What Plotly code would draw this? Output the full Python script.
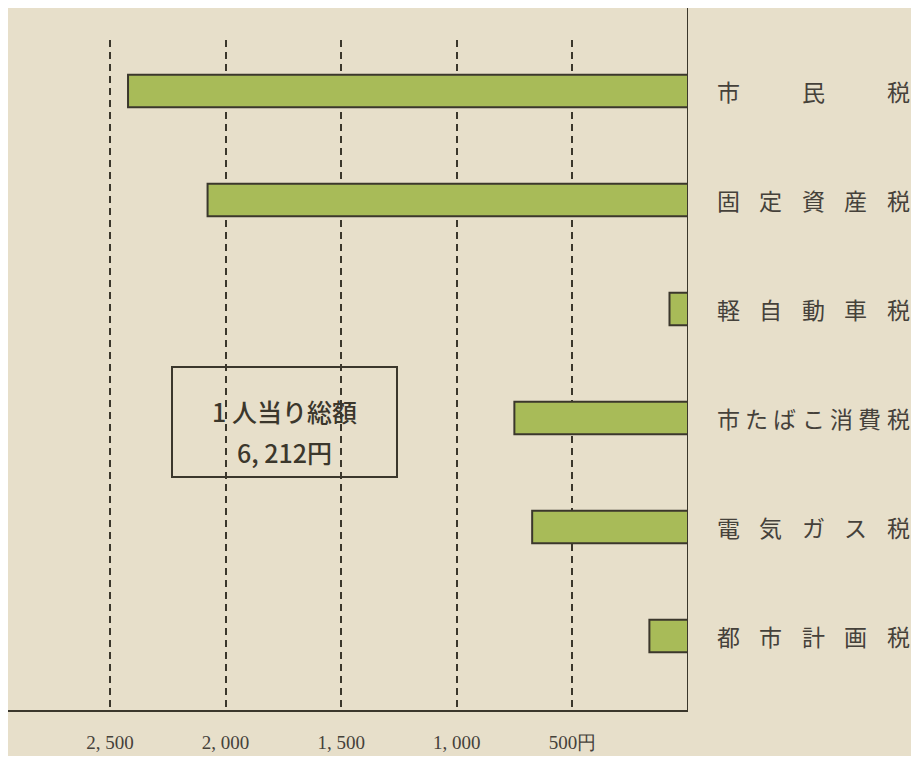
import plotly.graph_objects as go

# 税目別 1人当り税額（円）
ZEIMOKU = ["市民税", "固定資産税", "軽自動車税", "市たばこ消費税", "電気ガス税", "都市計画税"]
GAKU = [2422, 2078, 80, 751, 674, 167]

TICK_VALS = [2500, 2000, 1500, 1000, 500]
TICK_TEXT = ["2, 500", "2, 000", "1, 500", "1, 000", "500円"]

SOUGAKU_LABEL = "1 人当り総額"
SOUGAKU_TEXT = "6, 212円"

BG_PAPER = "#e7dfca"
BAR_GREEN = "#a8bb58"
INK = "#3b372c"
LABEL_INK = "#45413a"

# ページの余白(8px)を差し引いたサイズ
OFF = 8
W, H = 919 - 2 * OFF, 764 - 2 * OFF
L, T = 0, 40 - OFF
PLOT_W = 688 - OFF
PLOT_H = 670
R = W - L - PLOT_W
B = H - T - PLOT_H
PX_PER_YEN = 0.2312


def px(x):
    return (x - OFF - L) / PLOT_W


def py(y):
    return 1 - (y - OFF - T) / PLOT_H


fig = go.Figure()
fig.add_trace(go.Bar(
    x=GAKU,
    y=ZEIMOKU,
    orientation="h",
    width=0.3,
    marker=dict(color=BAR_GREEN, line=dict(color=INK, width=2)),
    hoverinfo="x+y",
))

# 軸線（右端の縦線、上まで伸ばす）
fig.add_shape(type="line", xref="x", yref="paper", x0=0, x1=0, y0=0, y1=1 + T / PLOT_H,
              line=dict(color=INK, width=2))

# 右側の税目ラベル（均等割付）
LEFT_PX, RIGHT_PX, CW = 716, 910, 24
for name in ZEIMOKU:
    n = len(name)
    step = (RIGHT_PX - LEFT_PX - CW) / (n - 1)
    for i, ch in enumerate(name):
        cx = LEFT_PX + CW / 2 + i * step
        fig.add_annotation(
            x=px(cx), xref="paper", y=name, yref="y",
            text=ch, showarrow=False, xanchor="center", yanchor="middle",
            font=dict(family="Noto Sans CJK JP", size=23, color=LABEL_INK),
        )

# 総額の枠
bx0, bx1, by0, by1 = 172, 397, 367, 477
fig.add_shape(type="rect", xref="paper", yref="paper",
              x0=px(bx0), x1=px(bx1), y0=py(by1), y1=py(by0),
              line=dict(color=INK, width=2), fillcolor="rgba(0,0,0,0)")
for txt, ty in [(SOUGAKU_LABEL, 411), (SOUGAKU_TEXT, 452)]:
    fig.add_annotation(
        x=px((bx0 + bx1) / 2), xref="paper", y=py(ty), yref="paper",
        text=txt, showarrow=False, xanchor="center", yanchor="middle",
        font=dict(family="Noto Sans CJK JP", size=25, color=INK, weight=500),
    )

fig.update_layout(
    width=W, height=H,
    paper_bgcolor=BG_PAPER,
    plot_bgcolor=BG_PAPER,
    margin=dict(l=L, r=R, t=T, b=B),
    showlegend=False,
    xaxis=dict(
        range=[PLOT_W / PX_PER_YEN, 0],
        tickvals=TICK_VALS, ticktext=TICK_TEXT,
        tickfont=dict(family="Liberation Serif", size=19, color=LABEL_INK),
        ticks="", ticklabelstandoff=14,
        showgrid=True, gridcolor=INK, gridwidth=2, griddash="7px,5px",
        zeroline=False,
        showline=True, linecolor=INK, linewidth=2,
        fixedrange=True,
    ),
    yaxis=dict(
        categoryorder="array", categoryarray=ZEIMOKU,
        range=[(PLOT_H - 51) / 109, -51 / 109],
        showticklabels=False, showgrid=False, zeroline=False,
        showline=False, ticks="",
        fixedrange=True,
    ),
)

fig.write_html("out.html")
